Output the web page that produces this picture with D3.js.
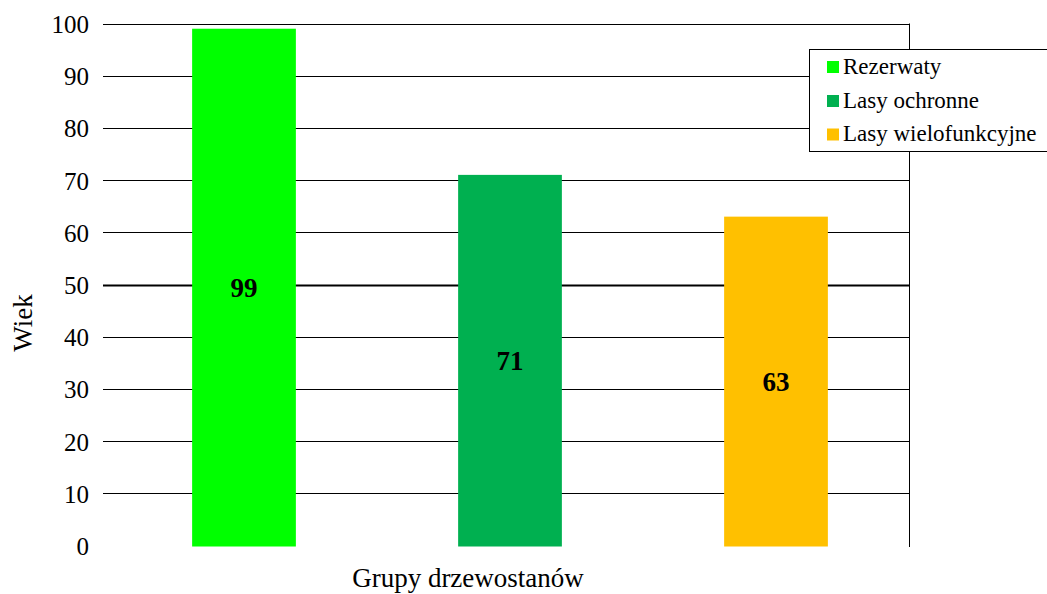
<!DOCTYPE html>
<html>
<head>
<meta charset="utf-8">
<script src="https://cdn.jsdelivr.net/npm/d3@7"></script>
<style>
  html, body { margin: 0; padding: 0; background: #fff; }
  svg { display: block; }
  svg text { font-family: "Liberation Serif", "Times New Roman", serif !important; fill: #000; }
</style>
</head>
<body>
<svg id="chart" width="1047" height="594"></svg>
<script>
// Average stand age by forest group
const categories = ["Rezerwaty", "Lasy ochronne", "Lasy wielofunkcyjne"];
const legendLabels = ["Rezerwaty", "Lasy ochronne", "Lasy wielofunkcyjne"];
const values = [99, 71, 63];
const colors = ["#00ff00", "#00b050", "#ffc000"];
const yTicks = [0, 10, 20, 30, 40, 50, 60, 70, 80, 90, 100];

const svg = d3.select("#chart");
const plotLeft = 111, plotRight = 909, plotTop = 23.5, plotBottom = 545.5;

const x = d3.scaleBand().domain(categories).range([plotLeft, plotRight]).paddingInner(0.61).paddingOuter(0.305);
const y = d3.scaleLinear().domain([0, 100]).range([plotBottom, plotTop]);

// Horizontal gridlines (no line at zero)
svg.append("g").selectAll("line")
  .data(yTicks.filter(d => d > 0))
  .join("line")
  .attr("x1", plotLeft - 8).attr("x2", plotRight)
  .attr("y1", d => Math.round(y(d)) + 0.5).attr("y2", d => Math.round(y(d)) + 0.5)
  .attr("stroke", "#000")
  .attr("stroke-width", d => d === 50 ? 2 : 1);

// Right border of the plot area
svg.append("line")
  .attr("x1", plotRight + 0.5).attr("x2", plotRight + 0.5)
  .attr("y1", y(100)).attr("y2", plotBottom + 1.5)
  .attr("stroke", "#000").attr("stroke-width", 1);

// Y axis tick labels
const yAxis = d3.axisLeft(y).tickValues(yTicks).tickSize(0).tickPadding(0);
const yg = svg.append("g").attr("transform", `translate(89,0)`).call(yAxis);
yg.attr("font-family", null);
yg.select(".domain").remove();
yg.selectAll("text")
  .attr("font-size", 25)
  .attr("fill", "#000")
  .attr("dy", "0.36em");

// Bars
svg.append("g").selectAll("rect")
  .data(categories)
  .join("rect")
  .attr("x", d => x(d))
  .attr("width", x.bandwidth())
  .attr("y", (d, i) => y(values[i]))
  .attr("height", (d, i) => plotBottom + 1 - y(values[i]))
  .attr("fill", (d, i) => colors[i]);

// Value labels in the middle of each bar
svg.append("g").selectAll("text")
  .data(categories)
  .join("text")
  .attr("x", d => x(d) + x.bandwidth() / 2)
  .attr("y", (d, i) => y(values[i] / 2))
  .attr("dy", "0.35em")
  .attr("text-anchor", "middle")
  .attr("font-size", 27)
  .attr("font-weight", "bold")
  .text((d, i) => values[i]);

// Axis titles
svg.append("text")
  .attr("x", 468).attr("y", 587)
  .attr("text-anchor", "middle")
  .attr("font-size", 27)
  .text("Grupy drzewostanów");

svg.append("text")
  .attr("transform", "translate(32,323) rotate(-90)")
  .attr("text-anchor", "middle")
  .attr("font-size", 27)
  .text("Wiek");

// Legend
const lg = svg.append("g");
lg.append("rect")
  .attr("x", 809.5).attr("y", 49.5)
  .attr("width", 250).attr("height", 102)
  .attr("fill", "#fff").attr("stroke", "#000").attr("stroke-width", 1);
const rowBase = [73.5, 107.5, 141];
legendLabels.forEach((label, i) => {
  lg.append("rect")
    .attr("x", 827).attr("y", rowBase[i] - 12.5)
    .attr("width", 12).attr("height", 12)
    .attr("fill", colors[i]);
  lg.append("text")
    .attr("x", 843).attr("y", rowBase[i])
    .attr("font-size", 23)
    .text(label);
});
</script>
</body>
</html>
